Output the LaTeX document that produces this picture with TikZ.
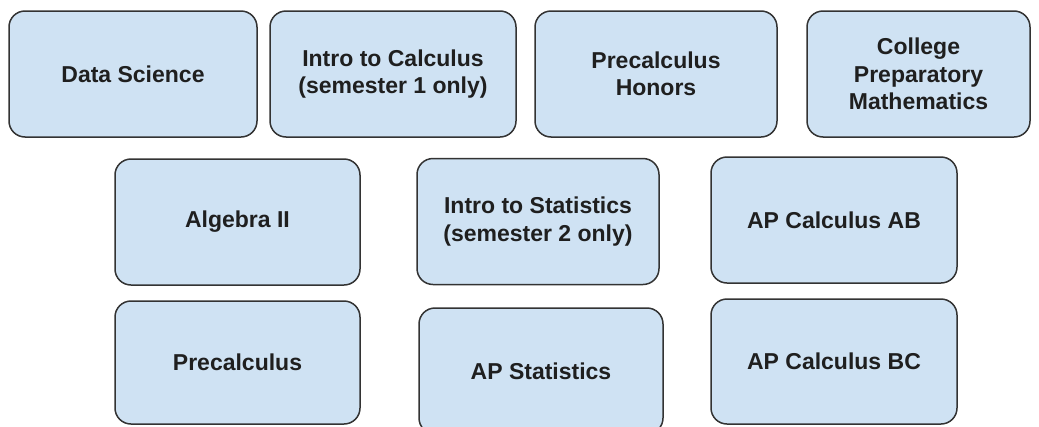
\documentclass[tikz,border=0pt]{standalone}
\usepackage{fontspec}
\setmainfont{Liberation Sans}
\usepackage{tikz}
\definecolor{courseblue}{HTML}{CFE2F3}
\definecolor{edgegray}{HTML}{333333}

\begin{document}
\begin{tikzpicture}[x=1pt,y=-1pt,
        course/.style={draw=edgegray,line width=1.5pt,fill=courseblue,
                       rounded corners=16pt,minimum height=126pt,inner sep=2pt,
                       align=center,text=black!88,
                       font=\fontsize{23}{27.5}\selectfont\bfseries}]
      \useasboundingbox (0,0) rectangle (1039,426);
      % first row
      \node[course,minimum width=248pt] (datasci) at (133,74) {Data Science};
      \node[course,minimum width=246pt] (introcalc) at (393,74) {Intro to Calculus\\(semester 1 only)};
      \node[course,minimum width=242pt] (precalchon) at (656,74) {Precalculus\\Honors};
      \node[course,minimum width=223pt] (cpm) at (918.5,74) {College\\Preparatory\\Mathematics};
      % second row
      \node[course,minimum width=245pt] (alg2) at (237.5,222) {Algebra II};
      \node[course,minimum width=242pt] (introstat) at (538,221.5) {Intro to Statistics\\(semester 2 only)};
      \node[course,minimum width=246pt] (apcalcab) at (834,220) {AP Calculus AB};
      % third row
      \node[course,minimum width=245pt,minimum height=123pt] (precalc) at (237.5,362.5) {Precalculus};
      \node[course,minimum width=244pt] (apstat) at (541,371) {AP Statistics};
      \node[course,minimum width=246pt,minimum height=125pt] (apcalcbc) at (834,361.5) {AP Calculus BC};
    \end{tikzpicture}
\end{document}
